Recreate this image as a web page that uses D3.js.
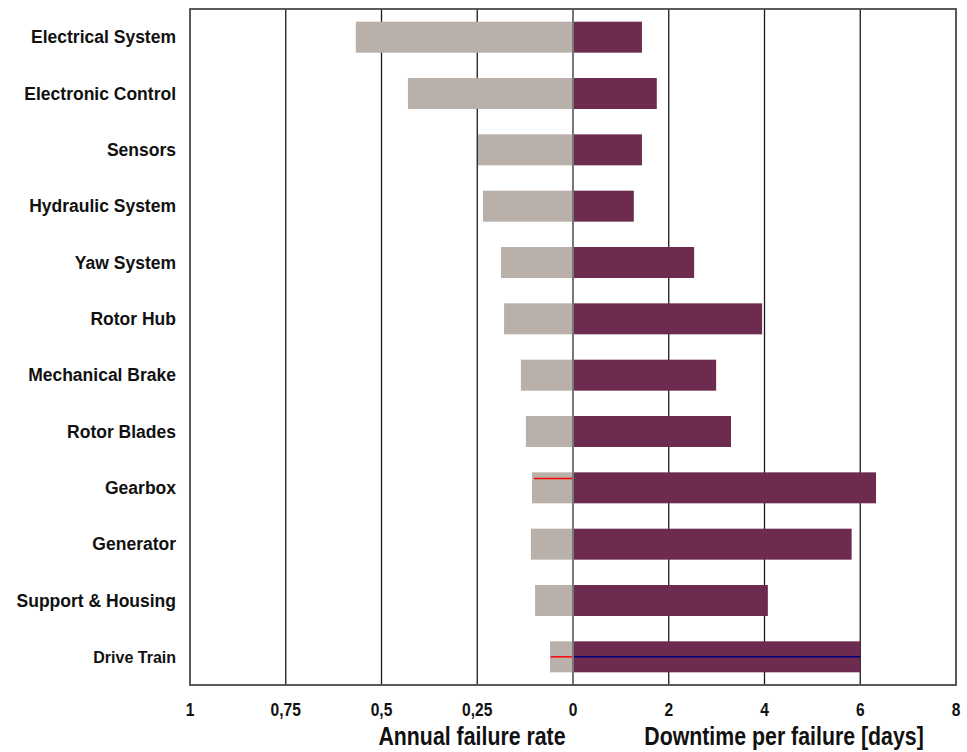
<!DOCTYPE html>
<html>
<head>
<meta charset="utf-8">
<script src="https://cdn.jsdelivr.net/npm/d3@7"></script>
<style>
  html, body { margin: 0; padding: 0; background: #fff; }
  svg { display: block; }
</style>
</head>
<body>
<svg id="chart" width="967" height="752"></svg>
<script>
// ---- data ----
const categories = ["Electrical System", "Electronic Control", "Sensors", "Hydraulic System",
  "Yaw System", "Rotor Hub", "Mechanical Brake", "Rotor Blades", "Gearbox", "Generator",
  "Support & Housing", "Drive Train"];
const failureRate = [0.567, 0.431, 0.248, 0.235, 0.188, 0.180, 0.136, 0.123, 0.107, 0.110, 0.099, 0.060];
const downtimeDays = [1.44, 1.75, 1.44, 1.27, 2.53, 3.95, 2.99, 3.30, 6.33, 5.82, 4.07, 6.00];
const rateTicks = [1, 0.75, 0.5, 0.25, 0];
const rateTickLabels = ["1", "0,75", "0,5", "0,25", "0"];
const dayTicks = [2, 4, 6, 8];
const dayTickLabels = ["2", "4", "6", "8"];
const leftTitle = "Annual failure rate";
const rightTitle = "Downtime per failure [days]";
// thin marker lines visible inside some bars
const markerCategories = ["Gearbox", "Drive Train", "Drive Train"];
const markerSide = ["rate", "rate", "days"];
const markerValue = [0.102, 0.058, 6.00];

// ---- layout ----
const svg = d3.select("#chart");
const L = 190, R = 956, T = 9, B = 685;
const x0 = 573;

const xRate = d3.scaleLinear().domain([0, 1]).range([x0, L]);
const xDays = d3.scaleLinear().domain([0, 8]).range([x0, R]);
const y = d3.scaleBand().domain(categories).range([T, B]).paddingInner(0.45).paddingOuter(0.225);

const gray = "#b9b0aa", purple = "#6d2b50";

// grid lines
const grid = svg.append("g");
rateTicks.filter(d => d > 0 && d < 1).forEach(d => {
  grid.append("line").attr("x1", xRate(d)).attr("x2", xRate(d)).attr("y1", T).attr("y2", B)
    .attr("stroke", "#1a1a1a").attr("stroke-width", 1.3);
});
dayTicks.filter(d => d < 8).forEach(d => {
  grid.append("line").attr("x1", xDays(d)).attr("x2", xDays(d)).attr("y1", T).attr("y2", B)
    .attr("stroke", "#1a1a1a").attr("stroke-width", 1.3);
});

// bars
const data = categories.map((c, i) => ({ c, r: failureRate[i], d: downtimeDays[i] }));
svg.append("g").selectAll("rect").data(data).join("rect")
  .attr("x", d => xRate(d.r)).attr("width", d => x0 - xRate(d.r))
  .attr("y", d => y(d.c)).attr("height", y.bandwidth())
  .attr("fill", gray);
svg.append("g").selectAll("rect").data(data).join("rect")
  .attr("x", x0).attr("width", d => xDays(d.d) - x0)
  .attr("y", d => y(d.c)).attr("height", y.bandwidth())
  .attr("fill", purple);

// marker lines
markerCategories.forEach((c, i) => {
  const yy = c === "Gearbox" ? y(c) + y.bandwidth() * 0.2 : y(c) + y.bandwidth() / 2;
  const xa = markerSide[i] === "rate" ? xRate(markerValue[i]) : x0;
  const xb = markerSide[i] === "rate" ? x0 : xDays(markerValue[i]);
  svg.append("line").attr("x1", xa).attr("x2", xb).attr("y1", yy).attr("y2", yy)
    .attr("stroke", markerSide[i] === "rate" ? "#ff0000" : "#000080").attr("stroke-width", 1.5);
});

// zero line
svg.append("line").attr("x1", x0).attr("x2", x0).attr("y1", T).attr("y2", B)
  .attr("stroke", "#777").attr("stroke-width", 2);

// frame
svg.append("rect").attr("x", L).attr("y", T).attr("width", R - L).attr("height", B - T)
  .attr("fill", "none").attr("stroke", "#4a4a4a").attr("stroke-width", 1.8);

// category labels
svg.append("g").selectAll("text").data(categories).join("text")
  .attr("x", 176).attr("y", d => y(d) + y.bandwidth() / 2)
  .attr("dy", "0.36em").attr("text-anchor", "end")
  .attr("font-family", "'Liberation Sans', Arial, sans-serif").attr("font-weight", "bold")
  .attr("font-size", d => d === "Drive Train" ? 16 : 17.5).attr("fill", "#111")
  .text(d => d);

// narrow text helper
function narrow(g, x, yy, txt, size, anchor) {
  g.append("text")
    .attr("transform", `translate(${x},${yy}) scale(0.82,1)`)
    .attr("text-anchor", anchor)
    .attr("font-family", "'Liberation Sans', Arial, sans-serif").attr("font-weight", "bold")
    .attr("font-size", size).attr("fill", "#111")
    .text(txt);
}

const ax = svg.append("g");
rateTicks.forEach((d, i) => narrow(ax, xRate(d), 716, rateTickLabels[i], 19, "middle"));
dayTicks.forEach((d, i) => narrow(ax, xDays(d), 716, dayTickLabels[i], 19, "middle"));
narrow(ax, 472, 745, leftTitle, 26, "middle");
narrow(ax, 784, 745, rightTitle, 26, "middle");
</script>
</body>
</html>
